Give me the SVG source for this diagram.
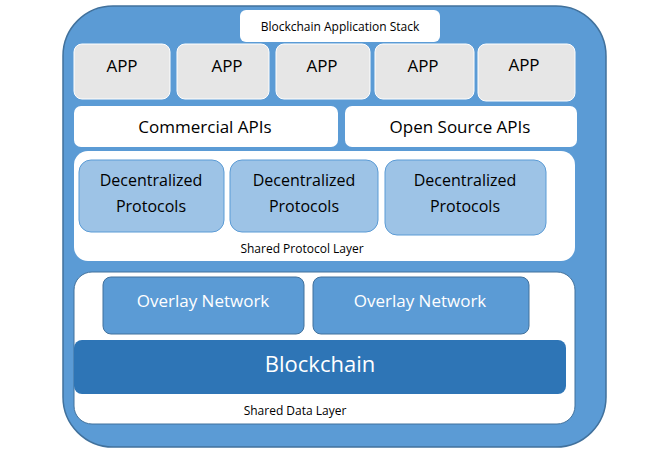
<svg xmlns="http://www.w3.org/2000/svg" width="667" height="458" viewBox="0 0 667 458">
<style>
text{font-family:"Open Sans","Liberation Sans",sans-serif;text-anchor:middle}
.app rect{fill:#e6e6e6;stroke:#ffffff;stroke-width:1}
.app text{font-size:17px;fill:#000}
.api rect{fill:#fff}
.api text{font-size:17px;fill:#000}
.dp rect{fill:#9dc3e6;stroke:#5b9bd5;stroke-width:1}
.dp text{font-size:16px;fill:#000}
.ov rect{fill:#5b9bd5;stroke:#41719c;stroke-width:1}
.ov text{font-size:17px;fill:#fff}
.small{font-size:12px;fill:#000}
</style>
<rect width="667" height="458" fill="#fff"/>
<g id="stack"><rect x="63" y="6" width="543" height="441" rx="50" fill="#5b9bd5" stroke="#41719c" stroke-width="1.5"/></g>
<g id="title"><rect x="240" y="10" width="200" height="32" rx="6" fill="#fff"/><text x="340" y="31" class="small">Blockchain Application Stack</text></g>
<g id="app1" class="app"><rect x="74" y="44" width="96" height="55" rx="8"/><text x="122" y="72">APP</text></g>
<g id="app2" class="app"><rect x="177" y="44" width="92" height="55" rx="8"/><text x="227" y="72">APP</text></g>
<g id="app3" class="app"><rect x="276" y="44" width="94" height="55" rx="8"/><text x="322" y="72">APP</text></g>
<g id="app4" class="app"><rect x="375" y="44" width="99" height="55" rx="8"/><text x="423" y="72">APP</text></g>
<g id="app5" class="app"><rect x="478" y="44" width="97" height="57" rx="8"/><text x="524" y="71">APP</text></g>
<g id="api1" class="api"><rect x="74" y="106" width="264" height="41" rx="7"/><text x="205" y="133">Commercial APIs</text></g>
<g id="api2" class="api"><rect x="345" y="106" width="232" height="41" rx="7"/><text x="460" y="133">Open Source APIs</text></g>
<g id="protocolLayer"><rect x="74" y="151" width="501" height="110" rx="14" fill="#fff"/><text x="302" y="253" class="small">Shared Protocol Layer</text></g>
<g id="dp1" class="dp"><rect x="79" y="160" width="145" height="72" rx="12"/><text x="151" y="186">Decentralized</text><text x="151" y="212">Protocols</text></g>
<g id="dp2" class="dp"><rect x="230" y="160" width="148" height="72" rx="12"/><text x="304" y="186">Decentralized</text><text x="304" y="212">Protocols</text></g>
<g id="dp3" class="dp"><rect x="385" y="160" width="161" height="75" rx="12"/><text x="465" y="186">Decentralized</text><text x="465" y="212">Protocols</text></g>
<g id="dataLayer"><rect x="74" y="272" width="501" height="152" rx="18" fill="#fff" stroke="#41719c" stroke-width="1"/><text x="295" y="415" class="small">Shared Data Layer</text></g>
<g id="ov1" class="ov"><rect x="103" y="277" width="201" height="57" rx="8"/><text x="203" y="307">Overlay Network</text></g>
<g id="ov2" class="ov"><rect x="313" y="277" width="216" height="57" rx="8"/><text x="420" y="307">Overlay Network</text></g>
<g id="blockchain"><rect x="74" y="340" width="492" height="54" rx="8" fill="#2e75b6"/><text x="320" y="372" style="font-size:22px;fill:#fff">Blockchain</text></g>
<g id="connectors"/>
</svg>
